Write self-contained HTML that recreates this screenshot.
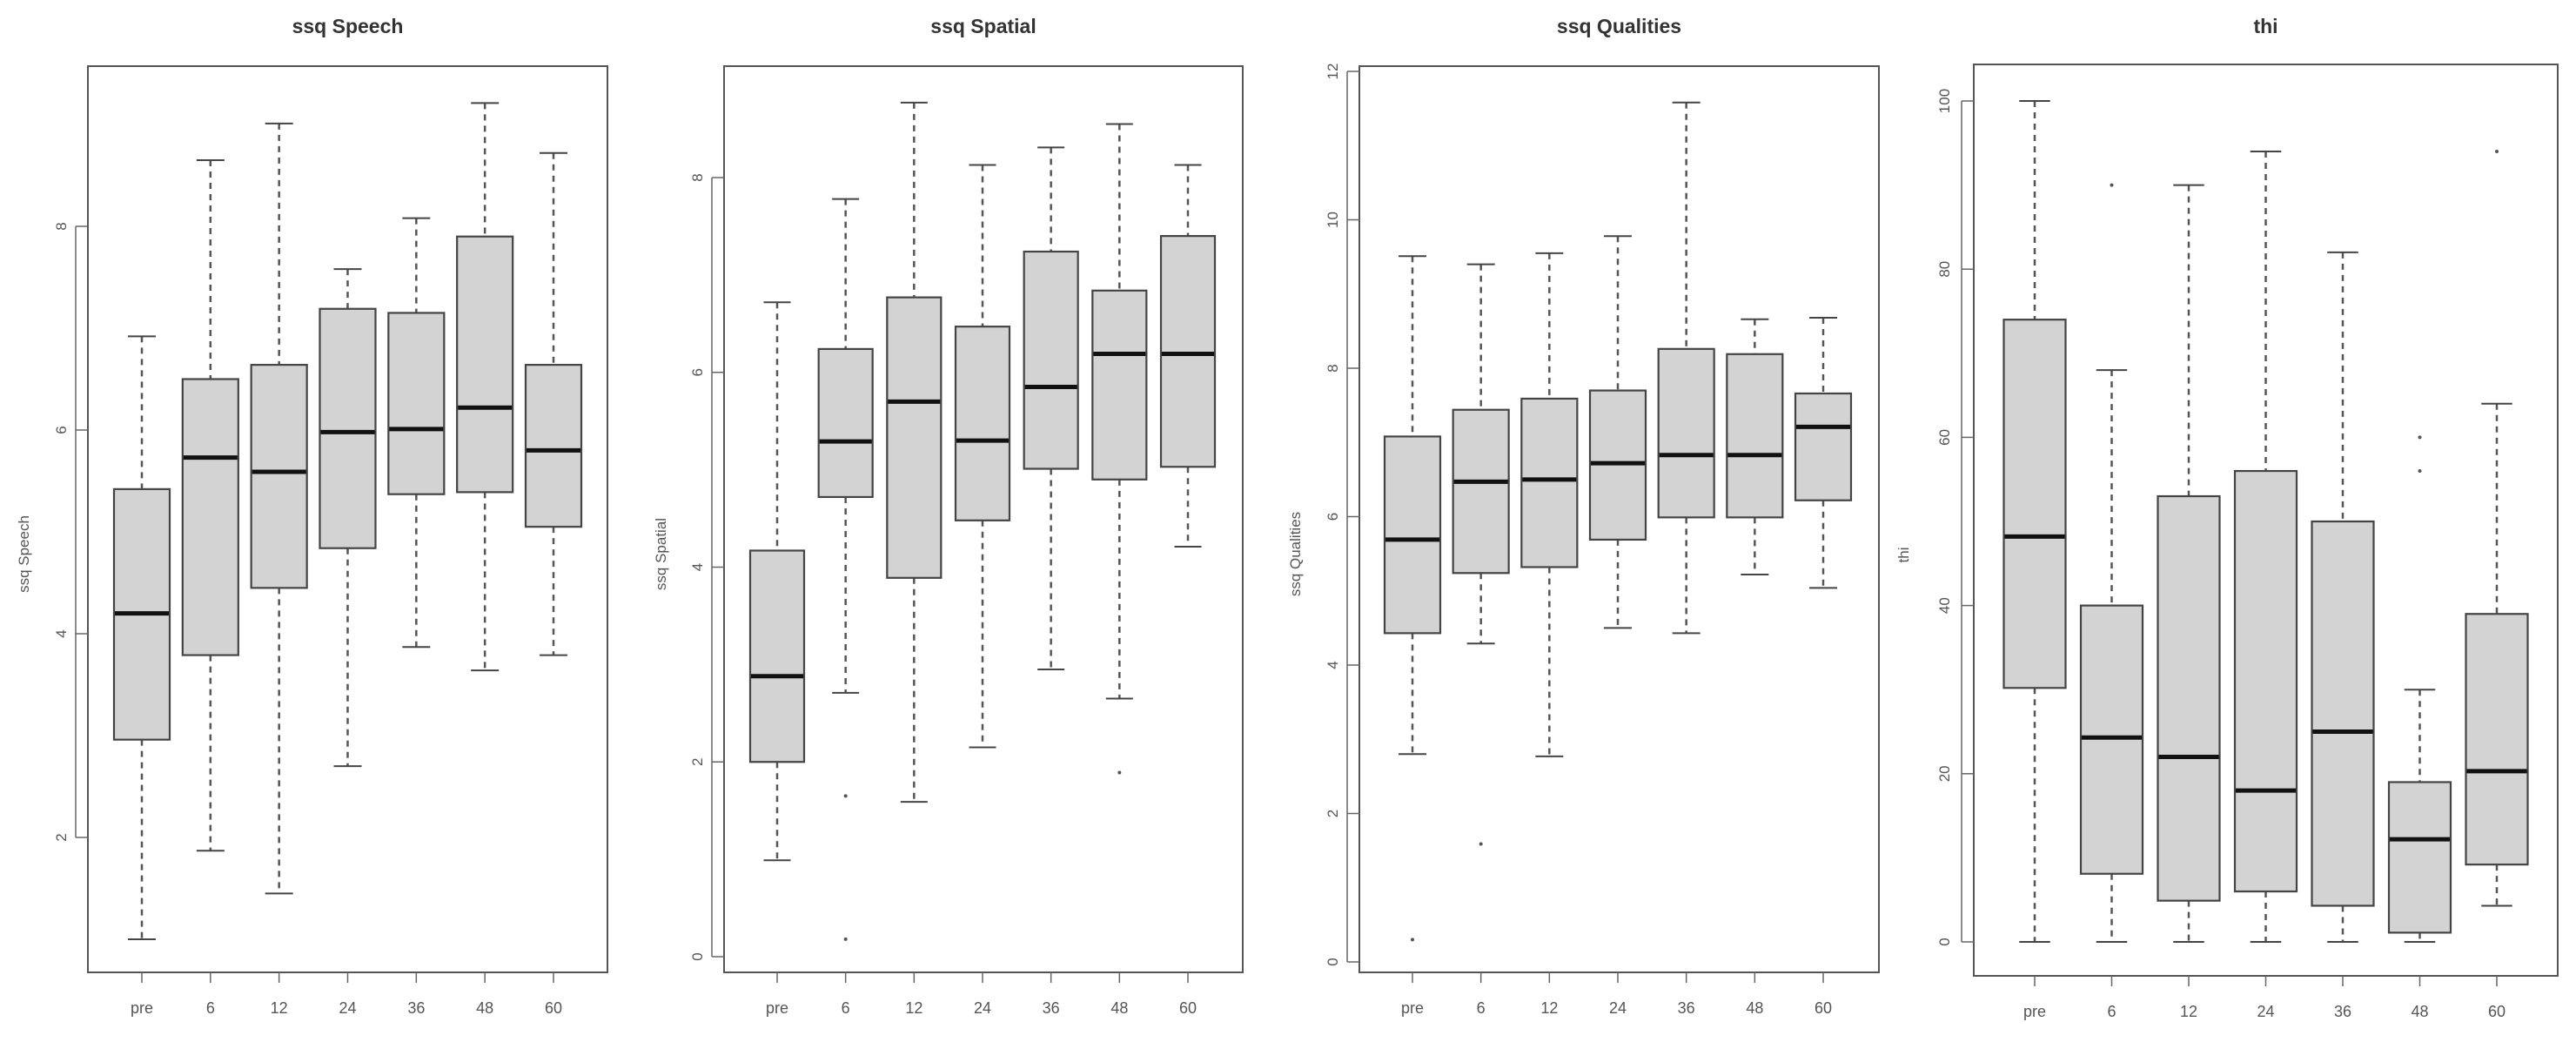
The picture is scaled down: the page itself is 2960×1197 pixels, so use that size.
<!DOCTYPE html>
<html><head><meta charset="utf-8"><style>
html,body{margin:0;padding:0;background:#fff;}
svg{display:block;font-family:"Liberation Sans",Arial,sans-serif;}
</style></head><body>
<svg id="chart" width="2960" height="1197" viewBox="0 0 2960 1197" xmlns="http://www.w3.org/2000/svg"></svg>
<script>
const categories = ["pre","6","12","24","36","48","60"];

// ssq Speech: [low whisker, Q1, median, Q3, high whisker]
const speechLow = [1.0, 1.87, 1.45, 2.70, 3.87, 3.64, 3.79];
const speechQ1 = [2.96, 3.79, 4.45, 4.84, 5.37, 5.39, 5.05];
const speechMed = [4.20, 5.73, 5.59, 5.98, 6.01, 6.22, 5.80];
const speechQ3 = [5.42, 6.50, 6.64, 7.19, 7.15, 7.90, 6.64];
const speechHigh = [6.92, 8.65, 9.01, 7.58, 8.08, 9.21, 8.72];
const speechOut = [[],[],[],[],[],[],[]];
const speechTicks = [2,4,6,8];

const spatialLow = [0.99, 2.71, 1.59, 2.15, 2.95, 2.65, 4.21];
const spatialQ1 = [2.00, 4.72, 3.89, 4.48, 5.01, 4.90, 5.03];
const spatialMed = [2.88, 5.29, 5.70, 5.30, 5.85, 6.19, 6.19];
const spatialQ3 = [4.17, 6.24, 6.77, 6.47, 7.24, 6.84, 7.40];
const spatialHigh = [6.72, 7.78, 8.77, 8.13, 8.31, 8.55, 8.13];
const spatialOut = [[],[1.65,0.18],[],[],[],[1.89],[]];
const spatialTicks = [0,2,4,6,8];

const qualLow = [2.80, 4.29, 2.77, 4.50, 4.43, 5.22, 5.04];
const qualQ1 = [4.43, 5.24, 5.32, 5.69, 5.99, 5.99, 6.22];
const qualMed = [5.69, 6.47, 6.50, 6.72, 6.83, 6.83, 7.21];
const qualQ3 = [7.08, 7.44, 7.59, 7.70, 8.26, 8.19, 7.66];
const qualHigh = [9.51, 9.40, 9.55, 9.78, 11.58, 8.66, 8.68];
const qualOut = [[0.30],[1.59],[],[],[],[],[]];
const qualTicks = [0,2,4,6,8,10,12];

const thiLow = [0, 0, 0, 0, 0, 0, 4.3];
const thiQ1 = [30.2, 8.1, 4.9, 6, 4.3, 1.1, 9.2];
const thiMed = [48.2, 24.3, 22, 18, 25, 12.2, 20.3];
const thiQ3 = [74, 40, 53, 56, 50, 19, 39];
const thiHigh = [100, 68, 90, 94, 82, 30, 64];
const thiOut = [[],[90],[],[],[],[60,56],[94]];
const thiTicks = [0,20,40,60,80,100];

const NS = "http://www.w3.org/2000/svg";
const svg = document.getElementById("chart");
function mk(tag, attrs, parent){
  const e = document.createElementNS(NS, tag);
  for (const k in attrs) e.setAttribute(k, attrs[k]);
  (parent||svg).appendChild(e);
  return e;
}

const panels = [
  {key:"speech", title:"ssq Speech", ylab:"ssq Speech", fl:101, fr:698, ft:76, fb:1117, c0:163, c6:636, bw:64,
   v0:2, y0:962, v1:8, y1:260, tickLX:70, ylabX:27, lo:speechLow,q1:speechQ1,md:speechMed,q3:speechQ3,hi:speechHigh,out:speechOut,ticks:speechTicks},
  {key:"spatial", title:"ssq Spatial", ylab:"ssq Spatial", fl:832, fr:1428, ft:76, fb:1117, c0:893, c6:1365, bw:62,
   v0:0, y0:1099, v1:8, y1:204, tickLX:801, ylabX:759, lo:spatialLow,q1:spatialQ1,md:spatialMed,q3:spatialQ3,hi:spatialHigh,out:spatialOut,ticks:spatialTicks},
  {key:"qualities", title:"ssq Qualities", ylab:"ssq Qualities", fl:1562, fr:2159, ft:76, fb:1117, c0:1623, c6:2095, bw:64,
   v0:0, y0:1105, v1:12, y1:82, tickLX:1531, ylabX:1488, lo:qualLow,q1:qualQ1,md:qualMed,q3:qualQ3,hi:qualHigh,out:qualOut,ticks:qualTicks},
  {key:"thi", title:"thi", ylab:"thi", fl:2268, fr:2939, ft:74, fb:1121, c0:2338, c6:2869, bw:71,
   v0:0, y0:1082, v1:100, y1:116, tickLX:2234, ylabX:2187, lo:thiLow,q1:thiQ1,md:thiMed,q3:thiQ3,hi:thiHigh,out:thiOut,ticks:thiTicks}
];

panels.forEach(p => {
  const g = mk("g", {});
  
  
  const yS = v => p.y0 + (v - p.v0) * (p.y1 - p.y0) / (p.v1 - p.v0);
  const xS = i => p.c0 + i * (p.c6 - p.c0) / (categories.length - 1);
  const cx = (p.fl + p.fr) / 2;

  const t = mk("text", {x:cx, y:38, "text-anchor":"middle", "font-size":23, "font-weight":"bold", fill:"#333"}, g);
  t.textContent = p.title;
  
  

  const fr = mk("rect", {x:p.fl, y:p.ft, width:p.fr-p.fl, height:p.fb-p.ft, fill:"none", stroke:"#555", "stroke-width":2}, g);
  
  

  // y axis
  const ya = mk("g", {}, g);
  
  
  const tmin = p.ticks[0], tmax = p.ticks[p.ticks.length-1];
  mk("line", {x1:p.fl-14, x2:p.fl-14, y1:yS(tmin), y2:yS(tmax), stroke:"#666", "stroke-width":1.5}, ya);
  p.ticks.forEach(v => {
    mk("line", {x1:p.fl-14, x2:p.fl, y1:yS(v), y2:yS(v), stroke:"#666", "stroke-width":1.5}, ya);
    const tl = mk("text", {x:p.tickLX, y:yS(v), "text-anchor":"middle", "font-size":17, fill:"#555",
      transform:`rotate(-90 ${p.tickLX} ${yS(v)})`, dy:"6"}, ya);
    tl.textContent = String(v);
    
    
  });
  const ymid = (p.ft + p.fb) / 2 + 40;
  const yl = mk("text", {x:p.ylabX, y:ymid, "text-anchor":"middle", "font-size":17, fill:"#555",
    transform:`rotate(-90 ${p.ylabX} ${ymid})`, dy:"6"}, g);
  yl.textContent = p.ylab;
  
  

  // x axis
  const xa = mk("g", {}, g);
  
  
  categories.forEach((c, i) => {
    mk("line", {x1:xS(i), x2:xS(i), y1:p.fb, y2:p.fb+12, stroke:"#666", "stroke-width":1.5}, xa);
    const xl = mk("text", {x:xS(i), y:p.fb+47, "text-anchor":"middle", "font-size":18, fill:"#555"}, xa);
    xl.textContent = c;
    
    
  });

  // boxes
  categories.forEach((c, i) => {
    const x = xS(i), hw = p.bw/2, cw = p.bw/4;
    const bg = mk("g", {}, g);
    
    
    mk("line", {x1:x, x2:x, y1:yS(p.hi[i]), y2:yS(p.q3[i]), stroke:"#555", "stroke-width":2.5, "stroke-dasharray":"7 6"}, bg);
    mk("line", {x1:x, x2:x, y1:yS(p.q1[i]), y2:yS(p.lo[i]), stroke:"#555", "stroke-width":2.5, "stroke-dasharray":"7 6"}, bg);
    mk("line", {x1:x-cw, x2:x+cw, y1:yS(p.hi[i]), y2:yS(p.hi[i]), stroke:"#444", "stroke-width":2}, bg);
    mk("line", {x1:x-cw, x2:x+cw, y1:yS(p.lo[i]), y2:yS(p.lo[i]), stroke:"#444", "stroke-width":2}, bg);
    mk("rect", {x:x-hw, y:yS(p.q3[i]), width:p.bw, height:yS(p.q1[i])-yS(p.q3[i]), fill:"#d3d3d3", stroke:"#444", "stroke-width":2.2}, bg);
    mk("line", {x1:x-hw+1, x2:x+hw-1, y1:yS(p.md[i]), y2:yS(p.md[i]), stroke:"#111", "stroke-width":5}, bg);
    p.out[i].forEach(v => {
      const o = mk("circle", {cx:x, cy:yS(v), r:2, fill:"#555"}, bg);
      
      
    });
  });
});
</script>
</body></html>
